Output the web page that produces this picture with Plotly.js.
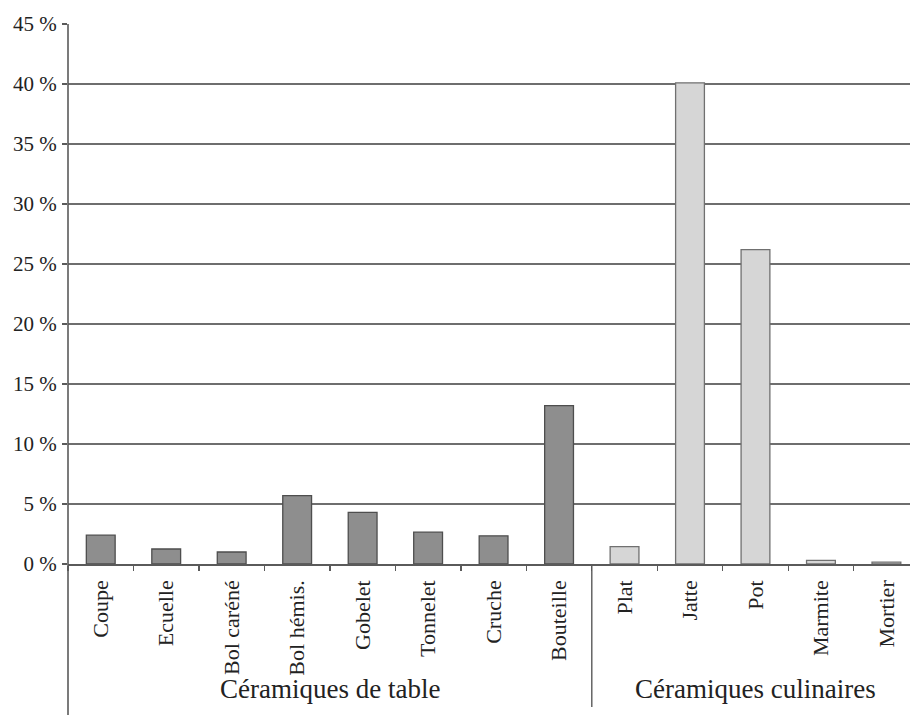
<!DOCTYPE html>
<html>
<head>
<meta charset="utf-8">
<script src="https://cdn.plot.ly/plotly-3.0.1.min.js"></script>
<style>
  html, body { margin: 0; padding: 0; background: #ffffff; }
  #chart { width: 910px; height: 715px; }
</style>
</head>
<body>
<div id="chart"></div>
<script>
// Vessel types, split into table ware and cooking ware
const tableTypes = ["Coupe", "Ecuelle", "Bol caréné", "Bol hémis.", "Gobelet", "Tonnelet", "Cruche", "Bouteille"];
const tableValues = [2.4, 1.25, 1.0, 5.7, 4.3, 2.65, 2.35, 13.2];
const cookTypes = ["Plat", "Jatte", "Pot", "Marmite", "Mortier"];
const cookValues = [1.45, 40.1, 26.2, 0.3, 0.15];
const groupLabels = ["Céramiques de table", "Céramiques culinaires"];
const yTicks = [0, 5, 10, 15, 20, 25, 30, 35, 40, 45];

const categories = tableTypes.concat(cookTypes);
const values = tableValues.concat(cookValues);
const fills = tableTypes.map(() => "#8e8e8e").concat(cookTypes.map(() => "#d6d6d6"));
const edges = tableTypes.map(() => "#4e4e4e").concat(cookTypes.map(() => "#707070"));

const serif = "'Liberation Serif', 'DejaVu Serif', serif";
const ink = "#222222";
const lineCol = "#5a5a5a";

// x range: last category runs past the right edge of the frame
const xRange = [-0.5, 12.36];
const toPaper = v => (v - xRange[0]) / (xRange[1] - xRange[0]);

const nTable = tableTypes.length;
const nCook = cookTypes.length;

const trace = {
  type: "bar",
  x: categories,
  y: values,
  marker: { color: fills, line: { color: edges, width: 1.3 } },
  hoverinfo: "x+y"
};

const layout = {
  width: 910,
  height: 715,
  margin: { l: 68, r: 0, t: 24, b: 151 },
  paper_bgcolor: "#ffffff",
  plot_bgcolor: "#ffffff",
  bargap: 0.56,
  showlegend: false,
  font: { family: serif, color: ink, size: 21 },
  xaxis: {
    type: "category",
    categoryorder: "array",
    categoryarray: categories,
    range: xRange,
    tickangle: -90,
    ticks: "outside",
    tickson: "boundaries",
    ticklen: 5,
    tickcolor: lineCol,
    tickwidth: 1.3,
    ticklabelstandoff: 6,
    showline: true,
    linecolor: lineCol,
    linewidth: 1.5,
    showgrid: false,
    tickfont: { family: serif, size: 22, color: ink },
    fixedrange: true
  },
  yaxis: {
    range: [0, 45],
    tickvals: yTicks,
    ticktext: yTicks.map(v => v + " %"),
    ticks: "outside",
    ticklen: 5,
    tickcolor: lineCol,
    tickwidth: 1.3,
    ticklabelstandoff: 1,
    showline: false,
    showgrid: true,
    gridcolor: "#6e6e6e",
    gridwidth: 1.5,
    zeroline: false,
    tickfont: { family: serif, size: 21, color: ink },
    fixedrange: true
  },
  shapes: [
    // left axis, running down through the category label band
    {
      type: "line", xref: "paper", yref: "paper",
      x0: toPaper(-0.5), x1: toPaper(-0.5), y0: 1, y1: -0.285,
      line: { color: lineCol, width: 1.6 }
    },
    // divider between the two groups
    {
      type: "line", xref: "paper", yref: "paper",
      x0: toPaper(nTable - 0.5), x1: toPaper(nTable - 0.5), y0: 0, y1: -0.265,
      line: { color: lineCol, width: 1.4 }
    }
  ],
  annotations: [
    {
      text: groupLabels[0], xref: "paper", yref: "paper",
      x: toPaper((nTable - 1) / 2), y: -0.232,
      xanchor: "center", yanchor: "middle", showarrow: false,
      font: { family: serif, size: 27, color: ink }
    },
    {
      text: groupLabels[1], xref: "paper", yref: "paper",
      x: toPaper(nTable + (nCook - 1) / 2), y: -0.232,
      xanchor: "center", yanchor: "middle", showarrow: false,
      font: { family: serif, size: 27, color: ink }
    }
  ]
};

Plotly.newPlot("chart", [trace], layout, { displayModeBar: false, staticPlot: true });
</script>
</body>
</html>
